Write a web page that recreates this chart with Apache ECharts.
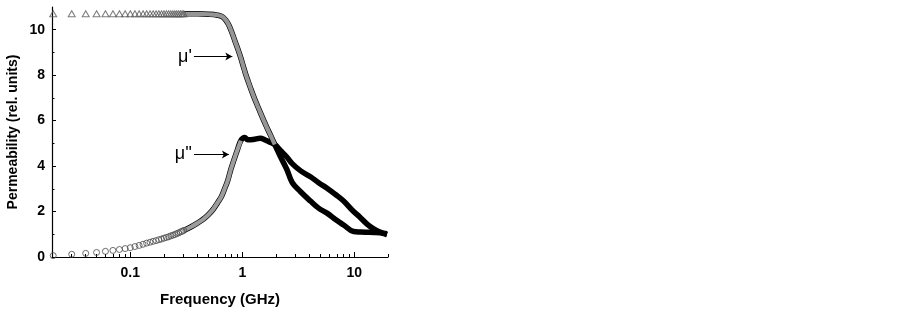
<!DOCTYPE html>
<html>
<head>
<meta charset="utf-8">
<script src="https://cdn.jsdelivr.net/npm/echarts@6/dist/echarts.min.js"></script>
<style>
html,body{margin:0;padding:0;background:#fff;}
#chart{width:903px;height:312px;}
</style>
</head>
<body>
<div id="chart"></div>
<script>
// ---- data ----
const sparseFreq = [0.0205,0.03,0.04,0.05,0.06,0.07,0.08,0.09,0.10,0.11,0.12,0.13,0.14,0.15,0.16,0.17,0.18,0.19,0.20,0.21,0.22,0.23,0.24,0.25,0.26,0.27,0.28,0.29,0.30];
const muPrimeSparse = [10.7,10.7,10.7,10.7,10.7,10.7,10.7,10.7,10.7,10.7,10.7,10.7,10.7,10.7,10.7,10.7,10.7,10.7,10.7,10.7,10.7,10.7,10.7,10.7,10.7,10.7,10.7,10.7,10.7];
const muDoublePrimeSparse = [0.06,0.12,0.16,0.20,0.25,0.29,0.33,0.37,0.41,0.46,0.51,0.56,0.61,0.65,0.69,0.72,0.76,0.79,0.83,0.86,0.89,0.93,0.96,0.99,1.03,1.06,1.10,1.13,1.17];

const muPrimeFreq = [0.30,0.40,0.50,0.60,0.66,0.71,0.75,0.79,0.83,0.87,0.92,0.97,1.02,1.07,1.13,1.19,1.27,1.36,1.46,1.56,1.66,1.79,1.95,2.20,2.50,2.79,3.30,4.06,4.80,5.71,6.80,8.03,9.86,11.5,12.97,15.0,17.05,19.6];
const muPrimeVal  = [10.7,10.7,10.68,10.64,10.58,10.43,10.25,10.0,9.72,9.43,9.10,8.76,8.40,8.06,7.72,7.41,7.04,6.68,6.32,5.99,5.69,5.35,4.95,4.40,3.85,3.28,2.88,2.46,2.15,1.93,1.65,1.41,1.12,1.10,1.09,1.08,1.06,0.98];

const muDoublePrimeFreq = [0.30,0.35,0.40,0.45,0.50,0.55,0.60,0.65,0.69,0.74,0.79,0.84,0.90,0.97,1.05,1.12,1.25,1.45,1.60,1.79,1.95,2.20,2.50,2.79,3.30,4.06,4.80,5.71,6.80,8.03,9.50,11.3,13.0,14.9,17.0,19.6];
const muDoublePrimeVal  = [1.17,1.33,1.50,1.67,1.87,2.10,2.38,2.65,2.96,3.35,3.85,4.25,4.68,5.12,5.26,5.16,5.17,5.22,5.15,5.04,4.95,4.68,4.40,4.11,3.80,3.53,3.27,3.03,2.75,2.46,2.08,1.74,1.45,1.24,1.10,1.02];

const xMajorTicks = [0.1, 1, 10];
const xMinorTicks = [0.03,0.04,0.05,0.06,0.07,0.08,0.09,0.2,0.3,0.4,0.5,0.6,0.7,0.8,0.9,2,3,4,5,6,7,8,9,20];
const yTicks = [0, 2, 4, 6, 8, 10];
const yMinorTicks = [1, 3, 5, 7, 9];

const muPrimeArrow = {label: "\u03bc'", from: [0.37, 8.82], to: [0.815, 8.82]};
const muDoublePrimeArrow = {label: "\u03bc''", from: [0.371, 4.51], to: [0.76, 4.51]};

// ---- chart ----
const FONT = "'Liberation Sans', Arial, sans-serif";
const pairs = (fs, vs) => fs.map((f, i) => [f, vs[i]]);
const upTo = (fs, vs, lim) => pairs(fs, vs).filter(p => p[0] <= lim);

const chart = echarts.init(document.getElementById('chart'), null, {renderer: 'canvas'});

function arrowLine(a) {
  return {
    silent: true,
    symbol: ['none', 'arrow'],
    symbolSize: [6, 7],
    lineStyle: {color: '#000', width: 1, type: 'solid'},
    label: {show: true, position: 'start', formatter: a.label, color: '#000',
            fontFamily: FONT, fontSize: 18, distance: 2},
    emphasis: {disabled: true},
    data: [[{coord: a.from}, {coord: a.to}]]
  };
}

const option = {
  animation: false,
  backgroundColor: '#fff',
  textStyle: {fontFamily: FONT},
  grid: {left: 52, right: 515, top: 7, bottom: 50},
  xAxis: [{
    type: 'log', logBase: 10, min: 0.02, max: 20,
    name: 'Frequency (GHz)', nameLocation: 'middle', nameGap: 35,
    nameTextStyle: {fontFamily: FONT, fontWeight: 'bold', fontSize: 15, color: '#000'},
    axisLine: {show: true, onZero: false, lineStyle: {color: '#000', width: 1.2}},
    axisTick: {show: true, inside: true, length: 5, customValues: xMajorTicks, lineStyle: {color: '#000', width: 1}},
    axisLabel: {show: true, customValues: xMajorTicks, margin: 9, fontFamily: FONT, fontWeight: 'bold', fontSize: 14, color: '#000',
                formatter: v => String(+v.toPrecision(3))},
    splitLine: {show: false}, minorTick: {show: false}
  }, {
    type: 'log', logBase: 10, min: 0.02, max: 20, position: 'bottom',
    axisLine: {show: false},
    axisTick: {show: true, inside: true, length: 3, customValues: xMinorTicks, lineStyle: {color: '#000', width: 1}},
    axisLabel: {show: false},
    splitLine: {show: false}
  }],
  yAxis: [{
    type: 'value', min: 0, max: 11, interval: 2,
    name: 'Permeability (rel. units)', nameLocation: 'middle', nameGap: 32,
    nameTextStyle: {fontFamily: FONT, fontWeight: 'bold', fontSize: 14, color: '#000'},
    axisLine: {show: true, onZero: false, lineStyle: {color: '#000', width: 1.2}},
    axisTick: {show: true, inside: true, length: 4, customValues: yTicks, lineStyle: {color: '#000', width: 1}},
    axisLabel: {show: true, customValues: yTicks, margin: 7, fontFamily: FONT, fontWeight: 'bold', fontSize: 14, color: '#000'},
    splitLine: {show: false}
  }, {
    type: 'value', min: 0, max: 11, position: 'left',
    axisLine: {show: false},
    axisTick: {show: true, inside: true, length: 2.5, customValues: yMinorTicks, lineStyle: {color: '#000', width: 1}},
    axisLabel: {show: false},
    splitLine: {show: false}
  }],
  series: [
    {
      name: "mu'' band", type: 'line', xAxisIndex: 0, yAxisIndex: 0,
      data: pairs(muDoublePrimeFreq, muDoublePrimeVal),
      smooth: 0.4, symbol: 'none', silent: true,
      lineStyle: {color: '#000', width: 5.5, cap: 'butt', join: 'round'}
    },
    {
      name: "mu'' band light", type: 'line', xAxisIndex: 0, yAxisIndex: 0,
      data: upTo(muDoublePrimeFreq, muDoublePrimeVal, 0.97),
      smooth: 0.4, symbol: 'none', silent: true,
      lineStyle: {color: '#9c9c9c', width: 4.2, join: 'round'}
    },
    {
      name: "mu' band", type: 'line', xAxisIndex: 0, yAxisIndex: 0,
      data: pairs(muPrimeFreq, muPrimeVal),
      smooth: 0.4, symbol: 'none', silent: true,
      lineStyle: {color: '#000', width: 5.5, cap: 'butt', join: 'round'}
    },
    {
      name: "mu' band light", type: 'line', xAxisIndex: 0, yAxisIndex: 0,
      data: upTo(muPrimeFreq, muPrimeVal, 1.95),
      smooth: 0.4, symbol: 'none', silent: true,
      lineStyle: {color: '#959595', width: 4.2, join: 'round'}
    },
    {
      name: "mu'", type: 'scatter', xAxisIndex: 0, yAxisIndex: 0, z: 5,
      data: pairs(sparseFreq, muPrimeSparse), clip: false,
      symbol: 'triangle', symbolSize: [7, 6], silent: true,
      itemStyle: {color: 'rgba(255,255,255,0)', borderColor: '#5a5a5a', borderWidth: 1},
      markLine: arrowLine(muPrimeArrow)
    },
    {
      name: "mu''", type: 'scatter', xAxisIndex: 0, yAxisIndex: 0, z: 5,
      data: pairs(sparseFreq, muDoublePrimeSparse), clip: false,
      symbol: 'circle', symbolSize: 6, silent: true,
      itemStyle: {color: 'rgba(255,255,255,0)', borderColor: '#4a4a4a', borderWidth: 1},
      markLine: arrowLine(muDoublePrimeArrow)
    }
  ]
};
chart.setOption(option);
</script>
</body>
</html>
